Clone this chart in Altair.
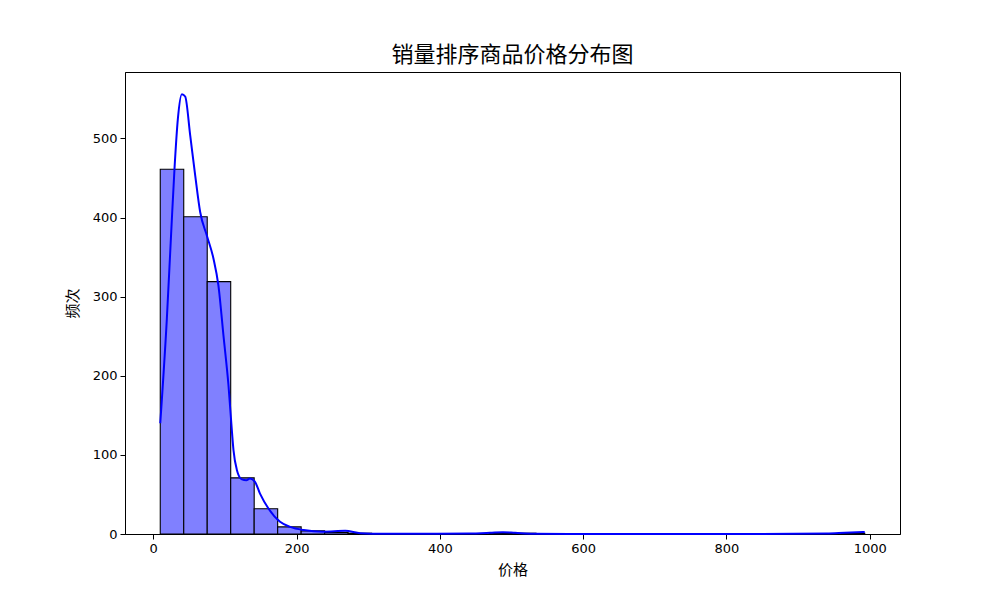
import altair as alt
import numpy as np
import pandas as pd

# Histogram: 30 equal-width bins between min and max price
price_min = 9.8
price_max = 993.0
n_bins = 30
bin_counts = [461, 401, 319, 71, 32, 9, 4, 2, 1, 0,
              0, 0, 0, 0, 1, 1, 0, 0, 0, 0,
              0, 0, 0, 0, 0, 0, 0, 0, 0, 1]

# KDE curve (scaled to counts)
kde_x = [9.8, 19, 25, 29.7, 34.4, 40, 44.6, 51.6, 58.6, 65.5, 74.9, 84.1, 91, 98, 105,
         109.8, 112, 116.7, 123.7, 130, 135, 142, 149, 161, 177, 191, 210, 237.5, 268,
         289, 320, 380, 440, 470, 488, 505, 530, 580, 700, 850, 940, 965, 993]
kde_y = [140, 272, 380, 462, 525, 556, 553, 504, 453, 407, 377, 348, 314, 251, 188,
         130, 106, 81, 69, 68, 70, 66, 51, 32, 15.5, 9, 5, 3, 4,
         1, 0.3, 0.2, 0.6, 1.5, 2.2, 1.5, 0.4, 0.1, 0.05, 0.1, 0.6, 1.5, 2.5]

x_ticks = [0, 200, 400, 600, 800, 1000]
y_ticks = [0, 100, 200, 300, 400, 500]

edges = np.linspace(price_min, price_max, n_bins + 1)
hist_df = pd.DataFrame({"start": edges[:-1], "end": edges[1:], "count": bin_counts})
kde_df = pd.DataFrame({"price": kde_x, "density": kde_y})

x_scale = alt.Scale(domain=[-39.4, 1042.2], nice=False, zero=False)
y_scale = alt.Scale(domain=[0, 584], nice=False)

x_axis = alt.Axis(values=x_ticks, title="价格", grid=False, tickSize=5, labelPadding=3,
                  format="d",
                  labelFontSize=13, labelFont="DejaVu Sans", labelColor="black",
                  titleFont="Noto Sans CJK SC", titleFontSize=15, titleFontWeight="normal",
                  titleColor="black", titlePadding=7, domainColor="black", tickColor="black",
                  labelFlush=False)
y_axis = alt.Axis(values=y_ticks, title="频次", grid=False, tickSize=5, labelPadding=3,
                  format="d",
                  labelFontSize=13, labelFont="DejaVu Sans", labelColor="black",
                  titleFont="Noto Sans CJK SC", titleFontSize=15, titleFontWeight="normal",
                  titleColor="black", titlePadding=12, domainColor="black", tickColor="black",
                  labelFlush=False)

bars = alt.Chart(hist_df).mark_rect(
    fill="#8080ff", stroke="black", strokeWidth=1.1
).encode(
    x=alt.X("start:Q", scale=x_scale, axis=x_axis),
    x2="end:Q",
    y=alt.Y("count:Q", scale=y_scale, axis=y_axis),
    y2=alt.datum(0),
)

line = alt.Chart(kde_df).mark_line(color="blue", strokeWidth=2, interpolate="monotone").encode(
    x=alt.X("price:Q", scale=x_scale),
    y=alt.Y("density:Q", scale=y_scale),
)

chart = alt.layer(bars, line).properties(
    width=775, height=462,
    title=alt.TitleParams("销量排序商品价格分布图", font="Noto Sans CJK SC", fontSize=22,
                          fontWeight="normal", color="black", anchor="middle", offset=5),
    autosize=alt.AutoSizeParams(type="none"),
    padding={"left": 117, "top": 64, "right": 92, "bottom": 58},
).configure(background="white").configure_view(stroke="black", strokeWidth=1, strokeOpacity=1)

chart.save("out.html", embed_options={"renderer": "svg", "actions": False})
